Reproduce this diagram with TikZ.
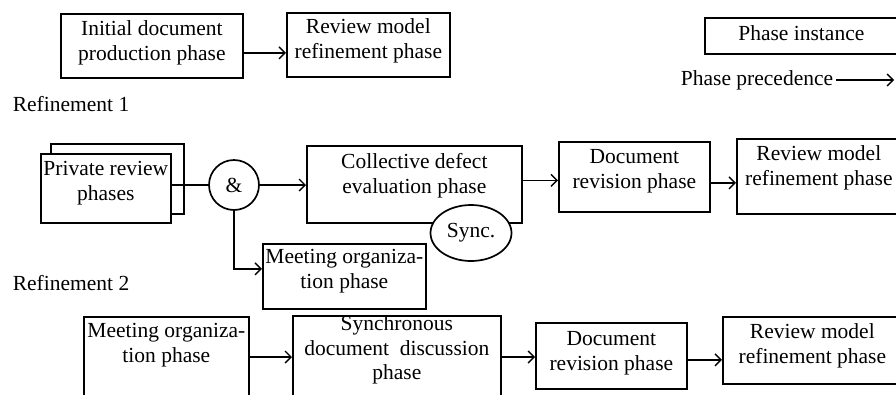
\documentclass[tikz,border=0pt]{standalone}
\usepackage{fontspec}
\setmainfont{Liberation Serif}
\usetikzlibrary{positioning,arrows,arrows.meta,shapes.geometric}

% text hung from the top of a phase box: [baseline of 1st line]{width}{height}{text}
\newcommand{\ptext}[4][22]{\parbox[c][#3][t]{#2}{\centering\rule{0pt}{#1pt}#4}}

\begin{document}
\begin{tikzpicture}[x=1pt, y=-1pt, line width=1.7pt,
  font=\fontsize{21.5}{24.5}\selectfont,
  phase/.style={draw, fill=white, inner sep=0pt, anchor=north west},
  prec/.style={-{Straight Barb[length=6pt,width=12pt,line width=1.4pt]}},
  lbl/.style={inner sep=0pt, anchor=base west}]
\useasboundingbox (0,0) rectangle (896,394);
\clip (0,0) rectangle (896,394);

% legend
\node[phase] (inst) at (704,17) {\ptext[23]{193pt}{36pt}{Phase instance}};
\node[inner sep=2pt, anchor=east] (prectxt) at (836,80) {Phase precedence};
\coordinate (precend) at (894,80);
\draw[prec] (prectxt.east) -- (precend);

% top level
\node[phase] (init) at (60,13) {\ptext{182pt}{64pt}{Initial document\\production phase}};
\node[phase] (rev0) at (286,12) {\ptext[21]{163pt}{64pt}{Review model\\refinement phase}};
\draw[prec] ([yshift=-7pt]init.east) -- ([yshift=-7pt]init.east -| rev0.west);

% refinement 1
\node[lbl] (ref1) at (12,111) {Refinement 1};
\node[phase] (privb) at (50,143) {\ptext{133pt}{70pt}{}};
\node[phase] (privf) at (40,153) {\ptext{130pt}{69pt}{Private review\\phases}};
\node[draw, circle, minimum size=50pt, inner sep=0pt] (and) at (234,185) {\&};
\node[phase] (coll) at (306,145) {\ptext[23]{215pt}{77pt}{Collective defect\\evaluation phase}};
\node[draw, fill=white, ellipse, minimum width=81pt, minimum height=56pt, inner sep=0pt] (sync) at (471,233) {Sync.};
\node[phase] (meet1) at (262,243) {\ptext[20]{163pt}{65pt}{Meeting organiza-\\tion phase}};
\node[phase] (doc1) at (558,141) {\ptext{151pt}{70pt}{Document\\revision phase}};
\node[phase] (rev1) at (736,138) {\ptext{164pt}{75pt}{Review model\\refinement phase}};

\draw (privf.east |- and.center) -- (and);
\draw[prec] (and) -- (coll.west |- and);
\draw[prec] (and) |- ([yshift=7.5pt]meet1.west);
\draw[prec] ([yshift=4pt]coll.east) -- ([yshift=4pt]coll.east -| doc1.west);
\draw[prec] ([yshift=-6pt]doc1.east) -- ([yshift=-6pt]doc1.east -| rev1.west);

% refinement 2
\node[lbl] (ref2) at (12,290) {Refinement 2};
\coordinate (row2) at (0,357);
\node[phase] (meet2) at (83,316) {\ptext[21]{165pt}{100pt}{Meeting organiza-\\tion phase}};
\node[phase] (sync2) at (292,315) {\ptext[14]{208pt}{100pt}{Synchronous\\document~~discussion\\phase}};
\node[phase] (doc2) at (535,322) {\ptext[23]{151pt}{66pt}{Document\\revision phase}};
\node[phase] (rev2) at (722,316) {\ptext{179pt}{67pt}{Review model\\refinement phase}};

\draw[prec] (meet2.east |- row2) -- (sync2.west |- row2);
\draw[prec] (sync2.east |- row2) -- (doc2.west |- row2);
\draw[prec] ([yshift=-4pt]doc2.east) -- ([yshift=-4pt]doc2.east -| rev2.west);
\end{tikzpicture}
\end{document}
